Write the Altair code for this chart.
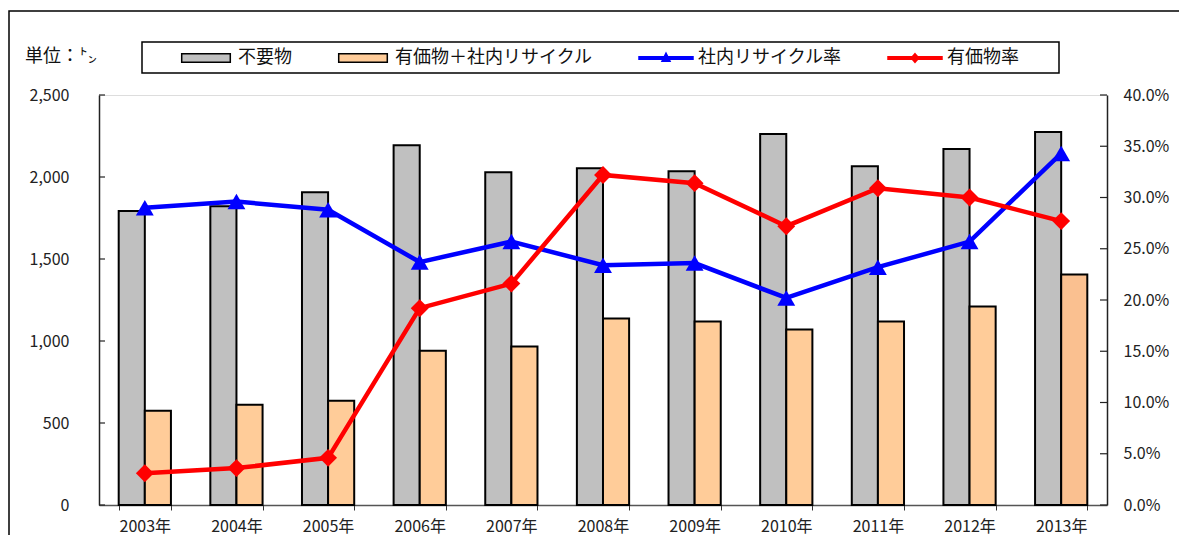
import altair as alt
import pandas as pd

FONT = "Noto Sans CJK JP"

years = ["2003年", "2004年", "2005年", "2006年", "2007年", "2008年",
         "2009年", "2010年", "2011年", "2012年", "2013年"]
fuyo = [1793, 1822, 1907, 2194, 2029, 2054, 2035, 2262, 2066, 2170, 2274]
yuka_recycle = [575, 611, 636, 941, 966, 1137, 1119, 1070, 1119, 1210, 1406]
shanai_rate = [29.0, 29.6, 28.8, 23.7, 25.7, 23.4, 23.6, 20.2, 23.2, 25.7, 34.3]
yuka_rate = [3.1, 3.6, 4.6, 19.2, 21.6, 32.2, 31.4, 27.2, 30.9, 30.0, 27.7]

bar_names = ["不要物", "有価物＋社内リサイクル"]
line_names = ["社内リサイクル率", "有価物率"]
all_names = bar_names + line_names
left_ticks = [0, 500, 1000, 1500, 2000, 2500]
right_ticks = [0, 5, 10, 15, 20, 25, 30, 35, 40]
unit_label = "単位：㌧"

W, H = 1008, 410

bars = pd.DataFrame(
    [{"year": y, "series": bar_names[0], "value": v} for y, v in zip(years, fuyo)]
    + [{"year": y, "series": bar_names[1], "value": v} for y, v in zip(years, yuka_recycle)]
)
rates = pd.DataFrame(
    [{"year": y, "series": line_names[0], "rate": v} for y, v in zip(years, shanai_rate)]
    + [{"year": y, "series": line_names[1], "rate": v} for y, v in zip(years, yuka_rate)]
)

xscale = alt.Scale(domain=years, paddingInner=0.43, paddingOuter=0.215)
x_axis = alt.Axis(orient="bottom", labelAngle=0, title=None, tickBand="extent",
                  tickSize=5, tickColor="#333", domainColor="#555", domainWidth=1.5,
                  labelFont=FONT, labelFontSize=16, labelColor="#222", labelPadding=8)
X = alt.X("year:N", scale=xscale, axis=x_axis, sort=years)

lscale = alt.Scale(domain=[0, 2500], nice=False, zero=True)
rscale = alt.Scale(domain=[0, 40], nice=False, zero=True)

bar_layer = alt.Chart(bars).mark_bar(stroke="black", strokeWidth=2).encode(
    x=X,
    xOffset=alt.XOffset("series:N", sort=bar_names,
                        scale=alt.Scale(domain=bar_names, paddingInner=0, paddingOuter=0)),
    y=alt.Y("value:Q", scale=lscale,
            axis=alt.Axis(orient="left", values=left_ticks, title=None,
                          labelExpr="format(datum.value, ',d')",
                          tickSize=0, labelPadding=30, domainColor="#222", domainWidth=1.5,
                          grid=False, labelFont=FONT, labelFontSize=16, labelColor="#222")),
    fill=alt.condition(
        "datum.year == '2013年' && datum.series == '有価物＋社内リサイクル'",
        alt.value("#FAC090"),
        alt.Fill("series:N", scale=alt.Scale(domain=bar_names, range=["#C0C0C0", "#FFCC99"]),
                 legend=None),
    ),
)

line_layer = alt.Chart(rates).mark_line(strokeWidth=4.5).encode(
    x=X,
    y=alt.Y("rate:Q", scale=rscale,
            axis=alt.Axis(orient="right", values=right_ticks, title=None,
                          labelExpr="format(datum.value, '.1f') + '%'",
                          tickSize=0, labelPadding=16, domainColor="#222", domainWidth=1.5,
                          grid=False, labelFont=FONT, labelFontSize=16, labelColor="#222")),
    stroke=alt.Stroke("series:N", scale=alt.Scale(domain=line_names, range=["#0000FF", "#FF0000"]),
                      legend=None),
)

point_layer = alt.Chart(rates).mark_point(filled=True, size=320, opacity=1).encode(
    x=X,
    y=alt.Y("rate:Q", scale=rscale, axis=None),
    fill=alt.Fill("series:N", scale=alt.Scale(domain=line_names, range=["#0000FF", "#FF0000"]),
                  legend=None),
    shape=alt.Shape("series:N", scale=alt.Scale(domain=line_names, range=["triangle-up", "diamond"]),
                    legend=None),
)

lt = pd.DataFrame({"v": left_ticks})
rt = pd.DataFrame({"v": right_ticks})
lticks = alt.Chart(lt).mark_rule(color="#222", strokeWidth=1.2).encode(
    x=alt.value(0), x2=alt.value(6), y=alt.Y("v:Q", scale=lscale, axis=None))
rticks = alt.Chart(rt).mark_rule(color="#222", strokeWidth=1.2).encode(
    x=alt.value(W - 7), x2=alt.value(W), y=alt.Y("v:Q", scale=rscale, axis=None))

# legend symbols (unit space is [-1, 1] scaled by sqrt(size)/2)
rect_path = "M-0.9,-0.16H0.9V0.16H-0.9Z"
tri_path = "M-1,-0.05H1V0.05H-1Z M-0.15,0.12L0,-0.18L0.15,0.12Z"
dia_path = "M-1,-0.05H1V0.05H-1Z M0,-0.16L0.14,0L0,0.16L-0.14,0Z"
leg = alt.Legend(orient="none", legendX=79, legendY=-65, direction="horizontal",
                 columns=4, title=None, labelFont=FONT, labelFontSize=18, labelColor="#111",
                 labelLimit=400, labelOffset=4, columnPadding=43, symbolSize=2916,
                 symbolStrokeWidth=1.5, symbolOpacity=1, padding=0)
legend_df = pd.DataFrame({"series": all_names})
legend_layer = alt.Chart(legend_df).mark_point(filled=True, clip=True, size=2916, opacity=1).encode(
    x=alt.value(-5000), y=alt.value(-5000),
    fill=alt.Fill("series:N", sort=all_names,
                  scale=alt.Scale(domain=all_names, range=["#C0C0C0", "#FFCC99", "#0000FF", "#FF0000"]),
                  legend=leg),
    stroke=alt.Stroke("series:N", sort=all_names,
                      scale=alt.Scale(domain=all_names, range=["black", "black", "#0000FF", "#FF0000"]),
                      legend=leg),
    shape=alt.Shape("series:N", sort=all_names,
                    scale=alt.Scale(domain=all_names, range=[rect_path, rect_path, tri_path, dia_path]),
                    legend=leg),
)

one = pd.DataFrame({"a": [0]})
legend_box = alt.Chart(one).mark_rect(fillOpacity=0, stroke="black", strokeWidth=1.5).encode(
    x=alt.value(43), x2=alt.value(960), y=alt.value(-53), y2=alt.value(-22))
frame = alt.Chart(one).mark_rect(fillOpacity=0, stroke="black", strokeWidth=1.5).encode(
    x=alt.value(-90), x2=alt.value(1086), y=alt.value(-84), y2=alt.value(480))
unit_text = alt.Chart(pd.DataFrame({"t": [unit_label]})).mark_text(
    align="left", baseline="middle", font=FONT, fontSize=18, color="#111").encode(
    text="t:N", x=alt.value(-74), y=alt.value(-38))

chart = alt.layer(
    frame, legend_box, unit_text, bar_layer, line_layer, point_layer, lticks, rticks, legend_layer
).resolve_scale(
    y="independent", fill="independent", stroke="independent", shape="independent"
).properties(
    width=W, height=H,
    autosize=alt.AutoSizeParams(type="none"),
    padding={"left": 91, "top": 87, "right": 72, "bottom": 30},
).configure_view(stroke=None).configure(background="white")

chart.save("out.html", embed_options={"renderer": "svg", "actions": False})
